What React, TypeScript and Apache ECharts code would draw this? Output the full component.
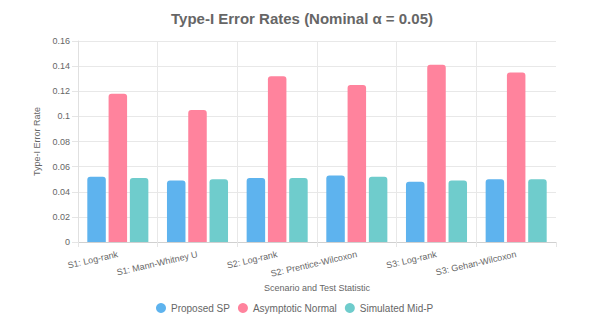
import React, { useEffect, useRef } from "react";
import * as echarts from "echarts";

const categories = [
  "S1: Log-rank",
  "S1: Mann-Whitney U",
  "S2: Log-rank",
  "S2: Prentice-Wilcoxon",
  "S3: Log-rank",
  "S3: Gehan-Wilcoxon",
];
const proposedSP = [0.052, 0.049, 0.051, 0.053, 0.048, 0.05];
const asymptoticNormal = [0.118, 0.105, 0.132, 0.125, 0.141, 0.135];
const simulatedMidP = [0.051, 0.05, 0.051, 0.052, 0.049, 0.05];
const seriesNames = ["Proposed SP", "Asymptotic Normal", "Simulated Mid-P"];
const colors = ["#5eb3ee", "#ff839d", "#6fcccc"];

const FONT = "'Liberation Sans', Arial, Helvetica, sans-serif";
const GRID = "#e8e8e8";

export default function App() {
  const ref = useRef<HTMLDivElement>(null);
  useEffect(() => {
    if (!ref.current) return;
    const chart = echarts.init(ref.current, null, { renderer: "svg" });
    const values = [proposedSP, asymptoticNormal, simulatedMidP];
    const vColors = categories.map(() => GRID).concat(["rgba(0,0,0,0)"]);
    chart.setOption({
      animation: false,
      textStyle: { fontFamily: FONT },
      title: {
        text: "Type-I Error Rates (Nominal α = 0.05)",
        left: "center",
        top: 6,
        textStyle: { fontSize: 15, fontWeight: "bold", color: "#666", fontFamily: FONT },
      },
      legend: {
        left: 151,
        top: 298,
        icon: "circle",
        itemWidth: 10,
        itemHeight: 10,
        itemGap: 8,
        textStyle: { fontSize: 10, color: "#666", fontFamily: FONT },
        data: seriesNames,
      },
      grid: { left: 78, right: 48, top: 41, bottom: 80, containLabel: false },
      xAxis: {
        type: "category",
        data: categories,
        name: "Scenario and Test Statistic",
        nameLocation: "middle",
        nameGap: 39,
        nameTextStyle: { fontSize: 9, color: "#666", fontFamily: FONT },
        axisLine: { show: true, lineStyle: { color: "#d0d0d0" } },
        axisTick: { show: true, length: 5, lineStyle: { color: "#e5e5e5" } },
        splitLine: { show: true, lineStyle: { color: vColors } },
        axisLabel: {
          rotate: 13,
          margin: 12,
          fontSize: 9,
          color: "#666",
          fontFamily: FONT,
          interval: 0,
        },
      },
      yAxis: {
        type: "value",
        min: 0,
        max: 0.16,
        interval: 0.02,
        name: "Type-I Error Rate",
        nameLocation: "middle",
        nameGap: 30,
        nameTextStyle: { fontSize: 9, color: "#666", fontFamily: FONT },
        axisLine: { show: true, lineStyle: { color: "#e0e0e0" } },
        axisTick: { show: true, length: 6, lineStyle: { color: "#e5e5e5" } },
        splitLine: { show: true, lineStyle: { color: GRID } },
        axisLabel: { fontSize: 9, color: "#666", margin: 8, fontFamily: FONT },
      },
      series: seriesNames.map((name, i) => ({
        name,
        type: "bar",
        data: values[i],
        barWidth: 18.5,
        barGap: "15%",
        itemStyle: { color: colors[i], borderRadius: [3, 3, 0, 0] },
      })),
    });
    return () => chart.dispose();
  }, []);
  return (
    <div
      ref={ref}
      style={{ position: "absolute", left: 0, top: 0, width: 604, height: 322 }}
    />
  );
}
